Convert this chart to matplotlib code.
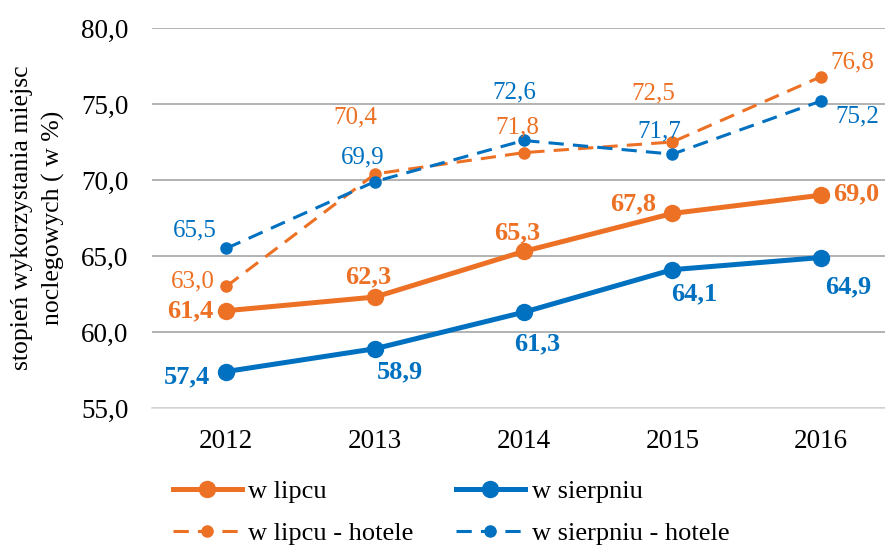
import matplotlib.pyplot as plt

plt.rcParams['font.family'] = ['Liberation Serif', 'DejaVu Serif']

years = ['2012', '2013', '2014', '2015', '2016']
lipiec = [61.4, 62.3, 65.3, 67.8, 69.0]
sierpien = [57.4, 58.9, 61.3, 64.1, 64.9]
lipiec_hotele = [63.0, 70.4, 71.8, 72.5, 76.8]
sierpien_hotele = [65.5, 69.9, 72.6, 71.7, 75.2]

ORANGE = '#ED7125'
BLUE = '#0070C0'

def fmt(v):
    return f"{v:.1f}".replace('.', ',')

fig = plt.figure(figsize=(8.85, 5.52), dpi=100)
ax = fig.add_axes([152/885, 1 - 408/552, 1 - 152/885, 380/552])
x = range(len(years))

l1, = ax.plot(x, lipiec, color=ORANGE, lw=3.6, marker='o', ms=11.5, label='w lipcu', zorder=4)
l2, = ax.plot(x, sierpien, color=BLUE, lw=3.6, marker='o', ms=11.5, label='w sierpniu', zorder=4)
l3, = ax.plot(x, lipiec_hotele, color=ORANGE, lw=2.2, ls=(0, (5, 3)), marker='o', ms=8,
              label='w lipcu - hotele', zorder=3)
l4, = ax.plot(x, sierpien_hotele, color=BLUE, lw=2.2, ls=(0, (5, 3)), marker='o', ms=8,
              label='w sierpniu - hotele', zorder=3)

ax.set_xlim(-0.5, 4.43)
ax.set_ylim(55, 80)
ax.set_yticks([55, 60, 65, 70, 75, 80])
ax.set_yticklabels([fmt(v) for v in [55, 60, 65, 70, 75, 80]])
ax.set_xticks(list(x))
ax.set_xticklabels(years)
ax.tick_params(axis='both', length=0, labelsize=19.5, colors='black')
ax.tick_params(axis='x', pad=15)
ax.tick_params(axis='y', pad=17)
ax.grid(axis='y', color='#a6a6a6', lw=1.2)
for s in ['top', 'right', 'left']:
    ax.spines[s].set_visible(False)
ax.spines['bottom'].set_color('#d9d9d9')
ax.spines['bottom'].set_linewidth(1.2)
ax.set_axisbelow(True)

# label offsets in pixels (dx, dy), y upward
off_lip = [(-36, 0), (-7, 20), (-7, 19), (-39, 10), (35, 1)]
off_sie = [(-39, -5), (25, -23), (13, -32), (22, -24), (27, -29)]
off_lh = [(-34, 5), (-20, 56), (-6, 25), (-19, 49), (31, 14)]
off_sh = [(-32, 18), (-12, 24), (-9, 48), (-13, 23), (36, -15)]

def label(series, offs, color, bold, size):
    for i, (v, (dx, dy)) in enumerate(zip(series, offs)):
        ax.annotate(fmt(v), (i, v), xytext=(dx, dy), textcoords='offset pixels',
                    ha='center', va='center', color=color, fontsize=size,
                    fontweight='bold' if bold else 'normal', zorder=5)

label(lipiec, off_lip, ORANGE, True, 19)
label(sierpien, off_sie, BLUE, True, 19)
label(lipiec_hotele, off_lh, ORANGE, False, 18)
label(sierpien_hotele, off_sh, BLUE, False, 18)

fig.text(38/885, 1 - 218/552, 'stopień wykorzystania miejsc\nnoclegowych ( w %)',
         rotation=90, ha='center', va='center', multialignment='center', fontsize=18.5,
         linespacing=1.45)

fig.legend([l1, l3, l2, l4], [l1.get_label(), l3.get_label(), l2.get_label(), l4.get_label()],
           ncol=2, loc='upper left', bbox_to_anchor=(173/885, 1 - 480/552), frameon=False,
           fontsize=19, handlelength=2.6, handletextpad=0.26, columnspacing=1.6,
           labelspacing=0.68, borderaxespad=0, borderpad=0)

fig.savefig('out.png', dpi=100)
